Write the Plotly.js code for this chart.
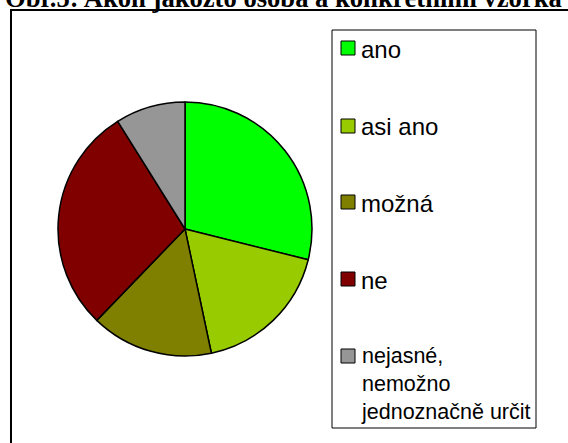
<!DOCTYPE html>
<html>
<head>
<meta charset="utf-8">
<script src="https://cdn.plot.ly/plotly-3.0.1.min.js"></script>
<style>html,body{margin:0;padding:0;background:#fff;}#chart{width:568px;height:443px;}</style>
</head>
<body>
<div id="chart"></div>
<script>
var titleText = "Obr.5: Akon jakožto osoba a konkrétními vzorka";
var categories = ["ano", "asi ano", "možná", "ne", "nejasné,<br>nemožno<br>jednoznačně určit"];
var values = [13, 8, 7, 13, 4];
var colors = ["#00ff00", "#99cc00", "#808000", "#800000", "#969696"];

var W = 568, H = 443;
function px(x){ return x / W; }
function py(y){ return 1 - y / H; }

var pieCx = 185, pieCy = 229, pieR = 127;

var trace = {
  type: "pie",
  labels: categories,
  values: values,
  sort: false,
  direction: "clockwise",
  rotation: 0,
  textinfo: "none",
  hoverinfo: "label+value+percent",
  marker: { colors: colors, line: { color: "#000000", width: 1.5 } },
  domain: { x: [px(pieCx - pieR), px(pieCx + pieR)], y: [py(pieCy + pieR), py(pieCy - pieR)] },
  showlegend: false
};

var shapes = [
  { type: "rect", xref: "paper", yref: "paper", x0: px(11), x1: px(620), y0: py(10), y1: py(520),
    line: { color: "#000000", width: 2 }, fillcolor: "rgba(0,0,0,0)" },
  { type: "rect", xref: "paper", yref: "paper", x0: px(332), x1: px(536), y0: py(30), y1: py(428),
    line: { color: "#000000", width: 1 }, fillcolor: "rgba(0,0,0,0)" }
];

var annotations = [
  { xref: "paper", yref: "paper", x: px(3), y: py(15), xanchor: "left", yanchor: "bottom",
    text: "<b>" + titleText + "</b>", showarrow: false,
    font: { family: "Liberation Serif, Times New Roman, serif", size: 26.6, color: "#000" } }
];

var itemCenters = [48, 126, 202, 279, 356];
var itemFont = [24, 24, 24, 24, 21.5];
for (var i = 0; i < categories.length; i++) {
  var cy = itemCenters[i];
  shapes.push({ type: "rect", xref: "paper", yref: "paper",
    x0: px(341), x1: px(355), y0: py(cy - 7), y1: py(cy + 7),
    line: { color: "#000000", width: 1 }, fillcolor: colors[i] });
  var multi = categories[i].indexOf("<br>") >= 0;
  annotations.push({ xref: "paper", yref: "paper", x: px(359),
    y: multi ? py(cy - 14) : py(cy + 1), xanchor: "left", yanchor: multi ? "top" : "middle",
    align: "left", text: categories[i], showarrow: false,
    font: { family: "Liberation Sans, Arial, sans-serif", size: itemFont[i], color: "#000" } });
}

var layout = {
  width: W, height: H,
  margin: { l: 0, r: 0, t: 0, b: 0 },
  paper_bgcolor: "#ffffff",
  plot_bgcolor: "#ffffff",
  showlegend: false,
  shapes: shapes,
  annotations: annotations
};

Plotly.newPlot("chart", [trace], layout, { displayModeBar: false, staticPlot: true });
</script>
</body>
</html>
